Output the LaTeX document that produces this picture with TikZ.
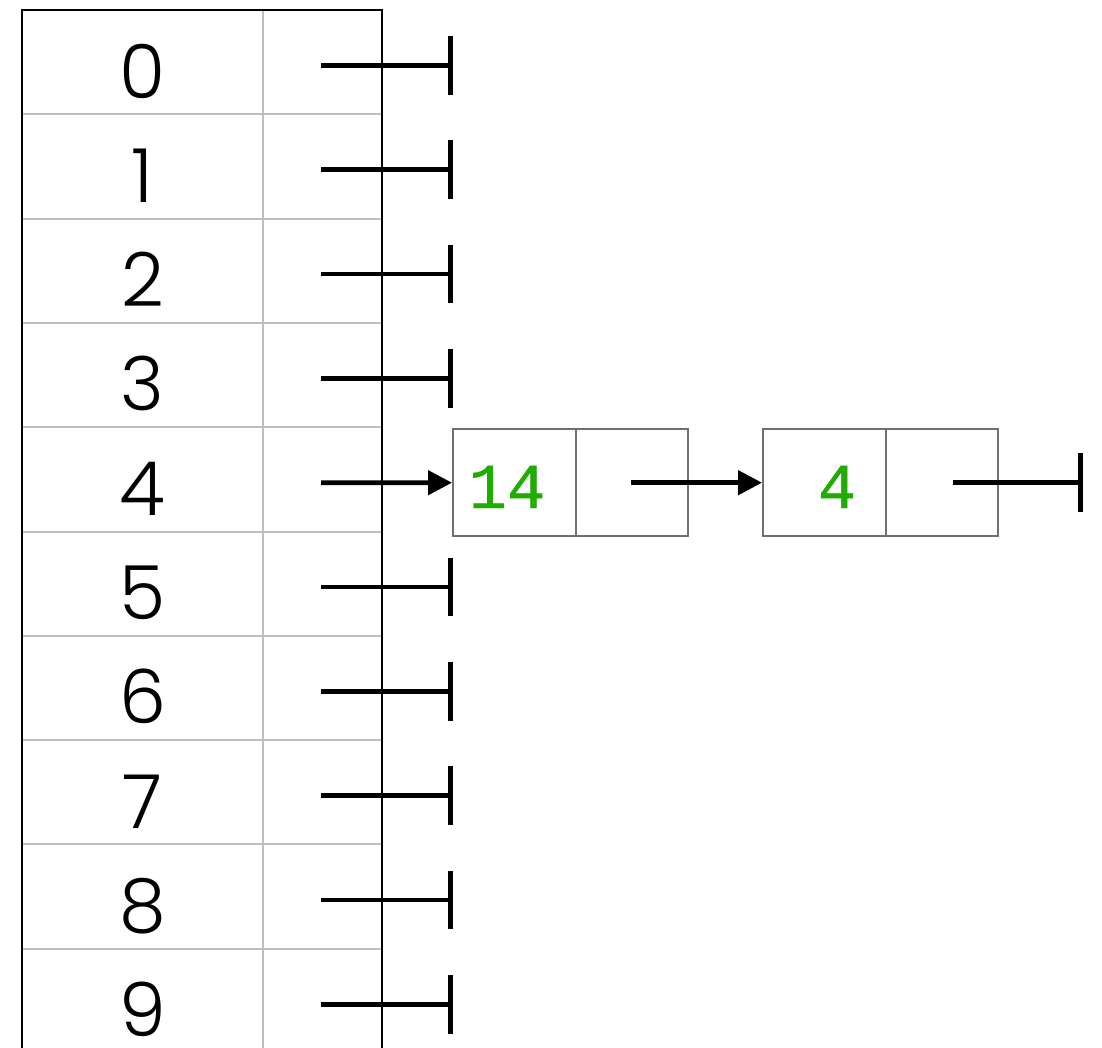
\documentclass[tikz,border=0pt]{standalone}
\usepackage{fontspec}
\setmainfont{Poppins}[UprightFont=* Light]
\newfontfamily\monof{Liberation Mono}[FakeBold=0.7]
\usetikzlibrary{arrows.meta}
\definecolor{keygreen}{RGB}{32,172,0}
\definecolor{gridgray}{RGB}{190,190,190}
\definecolor{boxgray}{RGB}{112,112,112}
\begin{document}
\begin{tikzpicture}[x=0.75pt,y=-0.75pt,
  keytext/.style={anchor=base,font=\fontsize{56}{60}\selectfont,inner sep=0pt},
  valtext/.style={anchor=base,text=keygreen,inner sep=0pt},
  listbox/.style={draw=boxgray,line width=1.5pt,minimum width=176.25pt,minimum height=80.25pt,inner sep=0pt},
  nilptr/.style={line width=3.5pt,-{Bar[width=44pt,line width=3.5pt]}},
  ptr/.style={line width=3.5pt,-{Triangle[length=18pt,width=18pt]}}]
\useasboundingbox (0,0) rectangle (1102,1047);
\clip (0,0) rectangle (1102,1047);
% table grid
\foreach \i in {1,...,9}{
  \draw[gridgray,line width=1.5pt] (22,{10+104.3*\i}) -- (382,{10+104.3*\i});
}
\draw[gridgray,line width=1.5pt] (263,10) -- (263,1060);
\draw[black,line width=1.5pt] (22,1060) -- (22,10) -- (382,10) -- (382,1060);
% keys
\foreach \i in {0,...,9}{
  \node[keytext] (k\i) at (142.5,{98+104.3*\i}) {\i};
  \coordinate (p\i) at (321,{65.5+104.3*\i});
  \coordinate (n\i) at (453,{65.5+104.3*\i});
}
% list nodes
\node[listbox] (b1) at (570.5,482.7) {};
\node[listbox] (b2) at (880.5,482.7) {};
\draw[boxgray,line width=1.5pt] ([xshift=93pt]b1.north west) -- ([xshift=93pt]b1.south west);
\draw[boxgray,line width=1.5pt] ([xshift=93pt]b2.north west) -- ([xshift=93pt]b2.south west);
\node[valtext] (v1) at (507,508) {\monof\fontsize{48}{50}\selectfont 14};
\node[valtext] (v2) at (837,508) {\monof\fontsize{48}{50}\selectfont 4};
\coordinate (q1) at (631,482.7);
\coordinate (q2) at (953,482.7);
\coordinate (nil) at (1083,482.7);
% pointers
\foreach \i in {0,1,2,3,5,6,7,8,9}{
  \draw[nilptr] (p\i) -- (n\i);
}
\draw[ptr] (p4) -- (b1.west);
\draw[ptr] (q1) -- (b2.west);
\draw[nilptr] (q2) -- (nil);
\end{tikzpicture}
\end{document}
